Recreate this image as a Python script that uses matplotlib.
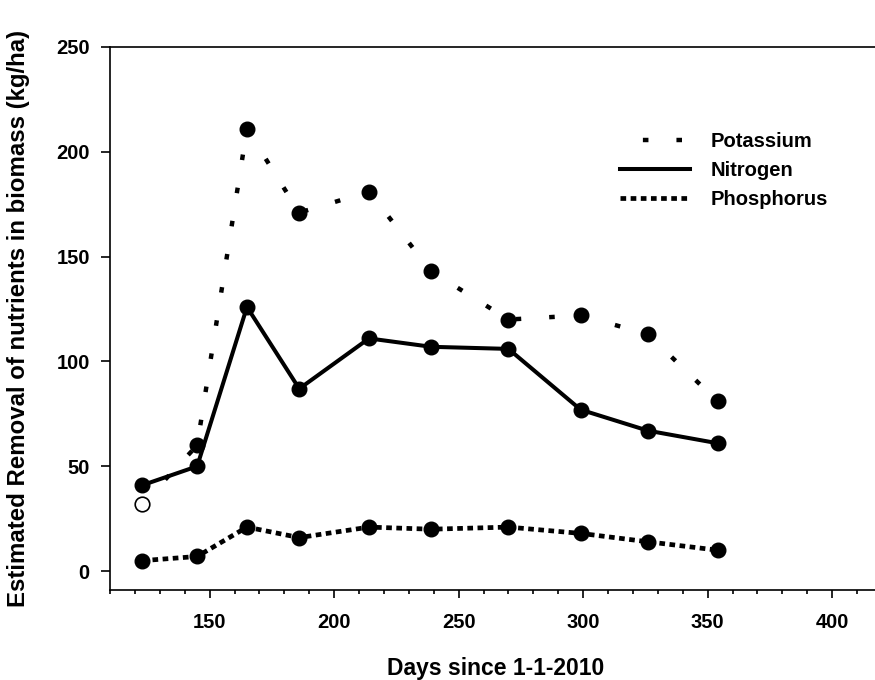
import matplotlib
matplotlib.use('Agg')
import matplotlib.pyplot as plt
import matplotlib.lines as mlines
from matplotlib.ticker import MultipleLocator

plt.rcParams['font.family'] = ['Liberation Sans', 'DejaVu Sans']
plt.rcParams['font.weight'] = 'bold'

# days since 1-1-2010
days = [123, 145, 165, 186, 214, 239, 270, 299, 326, 354]
nitrogen = [41, 50, 126, 87, 111, 107, 106, 77, 67, 61]
phosphorus = [5, 7, 21, 16, 21, 20, 21, 18, 14, 10]
potassium = [32, 60, 211, 171, 181, 143, 120, 122, 113, 81]

fig = plt.figure(figsize=(8.75, 6.8), dpi=100)
# the original is cropped on the right, so the axes run past the figure edge
ax = fig.add_axes([110 / 875, 90 / 680, 772 / 875, 543 / 680])

ms = 10.5
k_style = (0, (1.25, 6.3))
p_style = (0, (1.2, 0.95))

ax.plot(days, potassium, color='black', lw=3.2, linestyle=k_style, dash_capstyle='butt')
ax.plot(days[1:], potassium[1:], 'o', color='black', ms=ms)
ax.plot(days[:1], potassium[:1], 'o', mfc='white', mec='black', mew=1.2, ms=ms)

ax.plot(days, nitrogen, color='black', lw=2.9, marker='o', ms=ms)
ax.plot(days, phosphorus, color='black', lw=3.4, linestyle=p_style,
        dash_capstyle='butt', marker='o', ms=ms)

ax.set_xlim(110, 420)
ax.set_ylim(-9, 250)
ax.xaxis.set_major_locator(MultipleLocator(50))
ax.xaxis.set_minor_locator(MultipleLocator(10))
ax.yaxis.set_major_locator(MultipleLocator(50))
ax.set_xticks([150, 200, 250, 300, 350, 400])
ax.tick_params(axis='x', which='major', length=5.5, width=1.2, pad=11, labelsize=14.5)
ax.tick_params(axis='x', which='minor', length=3, width=1.2)
ax.tick_params(axis='y', which='major', length=6.5, width=1.2, pad=8, labelsize=14.5)
for s in ax.spines.values():
    s.set_linewidth(1.2)
ax.spines['right'].set_visible(False)

ax.set_xlabel('Days since 1-1-2010', fontsize=16.5, fontweight='bold', labelpad=18)
ax.set_ylabel('Estimated Removal of nutrients in biomass (kg/ha)', fontsize=17.3,
              fontweight='bold', labelpad=19)

h_k = mlines.Line2D([], [], color='black', lw=3.2, linestyle=(2.4, (1.25, 6.3)), dash_capstyle='butt')
h_n = mlines.Line2D([], [], color='black', lw=2.9)
h_p = mlines.Line2D([], [], color='black', lw=3.4, linestyle=p_style, dash_capstyle='butt')
leg = ax.legend([h_k, h_n, h_p], ['Potassium', 'Nitrogen', 'Phosphorus'],
                frameon=False, fontsize=14.5, handlelength=3.5, handletextpad=1.0,
                labelspacing=0.5, loc='upper left', borderpad=0, borderaxespad=0,
                bbox_to_anchor=((620 - 110) / 772, (590 - 132) / 543))
for t in leg.get_texts():
    t.set_fontweight('bold')

fig.savefig('out.png', dpi=100)
